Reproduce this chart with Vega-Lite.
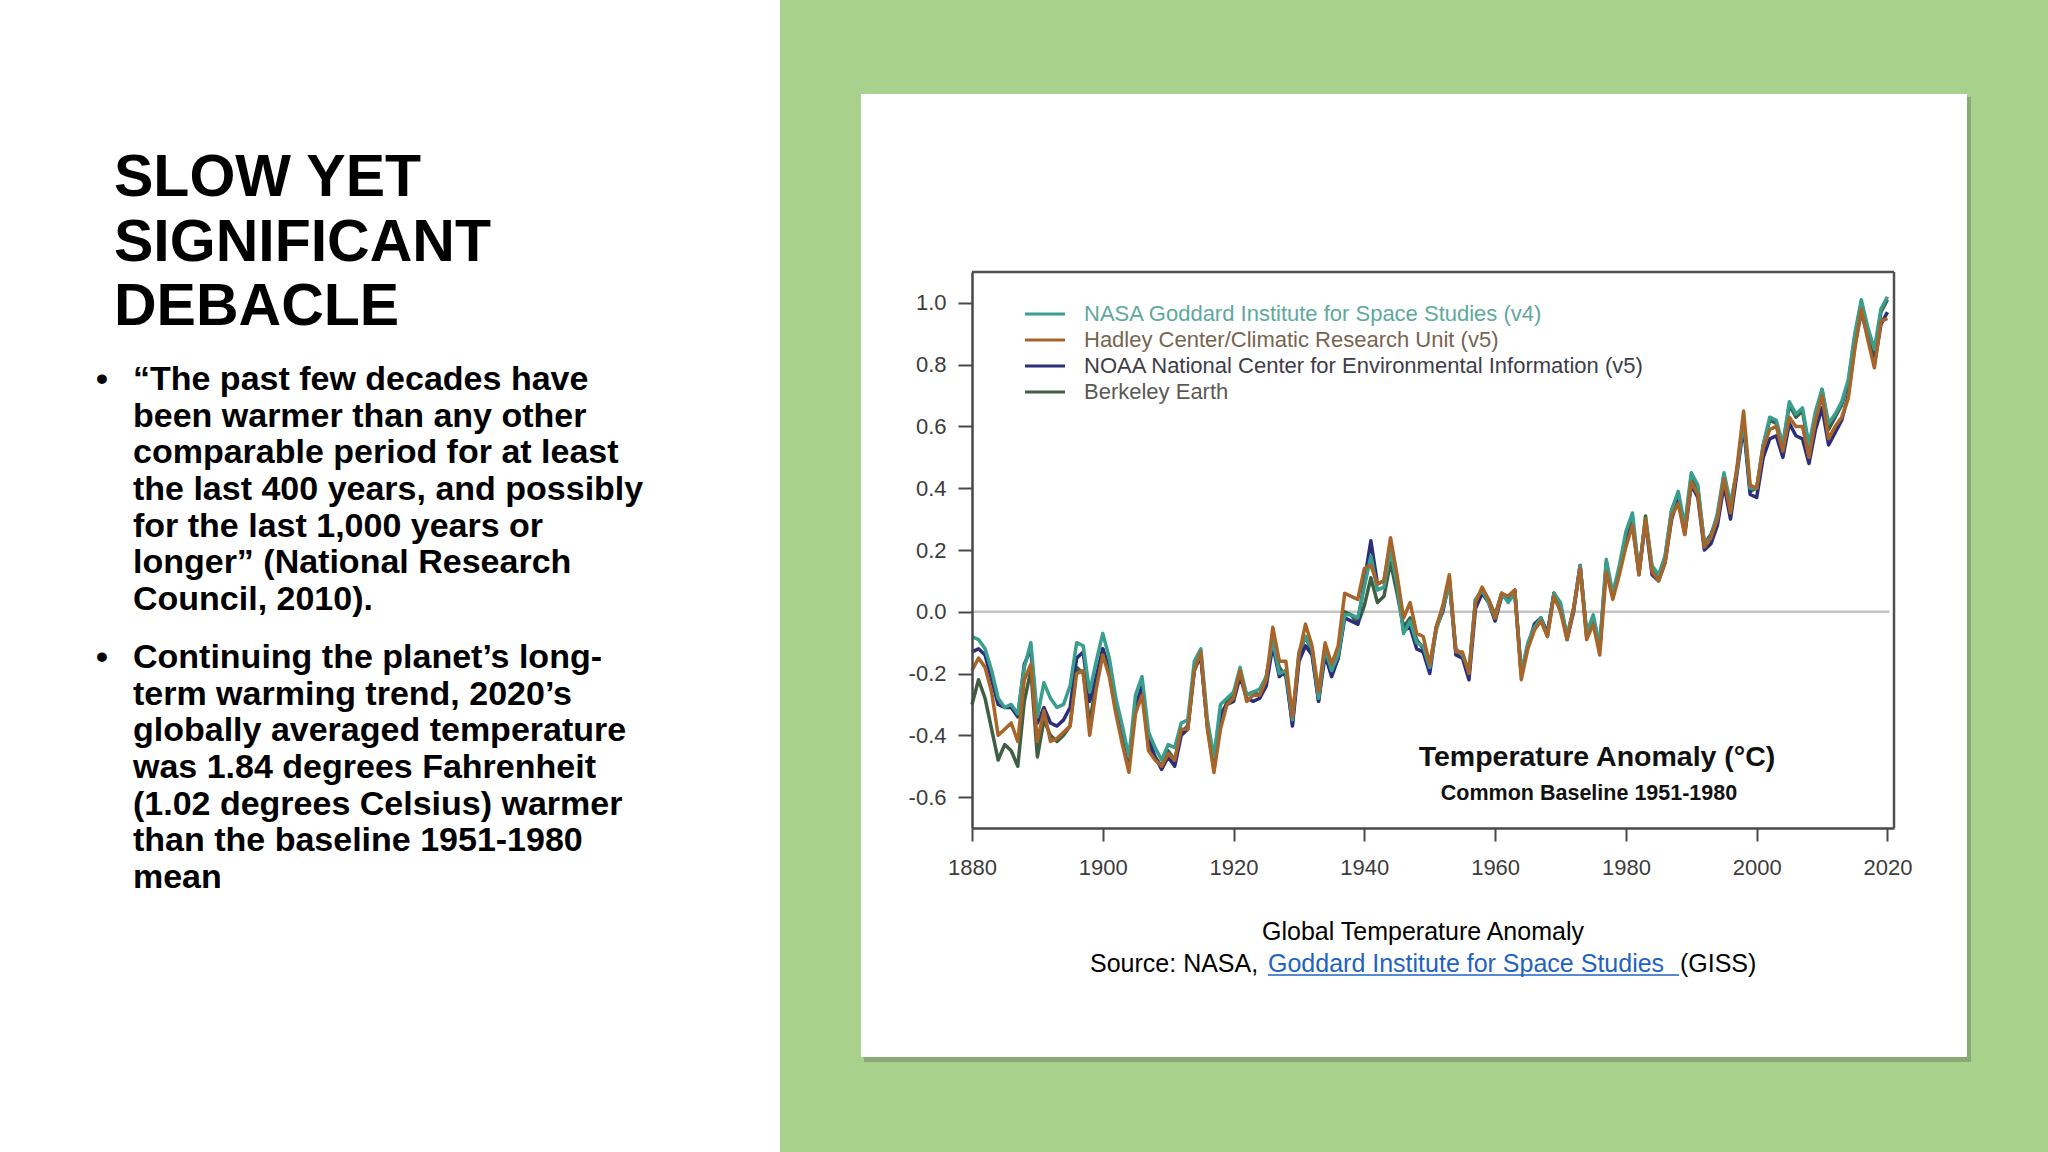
{
  "$schema": "https://vega.github.io/schema/vega-lite/v6.json",
  "width": 922,
  "height": 556,
  "autosize": {"type": "none"},
  "padding": {"left": 972, "top": 272, "right": 154, "bottom": 324},
  "background": "white",
  "config": {
    "font": "Liberation Sans",
    "view": {"stroke": "#505050", "strokeWidth": 2.5}
  },
  "layer": [
    {
      "data": {"values": [{}]},
      "mark": {"type": "rect", "color": "#A9D18E"},
      "encoding": {"x": {"datum": 1850.64}, "x2": {"datum": 2100}, "y": {"datum": -2.5}, "y2": {"datum": 2.5}}
    },
    {
      "data": {"values": [{}]},
      "mark": {"type": "rect", "color": "#7f9c6c", "opacity": 0.75},
      "encoding": {"x": {"datum": 1863.48}, "x2": {"datum": 2032.78}, "y": {"datum": -1.4576}, "y2": {"datum": 1.6665}}
    },
    {
      "data": {"values": [{}]},
      "mark": {"type": "rect", "color": "#ffffff"},
      "encoding": {"x": {"datum": 1863.03}, "x2": {"datum": 2032.16}, "y": {"datum": -1.4414}, "y2": {"datum": 1.6763}}
    },
    {
      "data": {"values": [{}]},
      "mark": {"type": "rule", "color": "#505050", "strokeWidth": 2.5},
      "encoding": {"x": {"datum": 1880}, "x2": {"datum": 2021}, "y": {"datum": 1.1}}
    },
    {
      "data": {"values": [{}]},
      "mark": {"type": "rule", "color": "#505050", "strokeWidth": 2.5},
      "encoding": {"x": {"datum": 2021}, "y": {"datum": -0.7}, "y2": {"datum": 1.1}}
    },
    {
      "data": {"values": [{}]},
      "mark": {"type": "rule", "color": "#c4c4c4", "strokeWidth": 2.5},
      "encoding": {"x": {"datum": 1880}, "x2": {"datum": 2020.3}, "y": {"datum": 0}}
    },
    {
      "data": {"values": [
        {"yr":1880,"nasa":-0.08,"hadcrut":-0.19,"noaa":-0.13,"berkeley":-0.30},
        {"yr":1881,"nasa":-0.09,"hadcrut":-0.15,"noaa":-0.12,"berkeley":-0.22},
        {"yr":1882,"nasa":-0.12,"hadcrut":-0.18,"noaa":-0.14,"berkeley":-0.28},
        {"yr":1883,"nasa":-0.19,"hadcrut":-0.26,"noaa":-0.22,"berkeley":-0.38},
        {"yr":1884,"nasa":-0.28,"hadcrut":-0.40,"noaa":-0.30,"berkeley":-0.48},
        {"yr":1885,"nasa":-0.31,"hadcrut":-0.38,"noaa":-0.31,"berkeley":-0.43},
        {"yr":1886,"nasa":-0.30,"hadcrut":-0.36,"noaa":-0.31,"berkeley":-0.45},
        {"yr":1887,"nasa":-0.33,"hadcrut":-0.42,"noaa":-0.34,"berkeley":-0.50},
        {"yr":1888,"nasa":-0.18,"hadcrut":-0.22,"noaa":-0.17,"berkeley":-0.29},
        {"yr":1889,"nasa":-0.10,"hadcrut":-0.17,"noaa":-0.12,"berkeley":-0.19},
        {"yr":1890,"nasa":-0.34,"hadcrut":-0.42,"noaa":-0.36,"berkeley":-0.47},
        {"yr":1891,"nasa":-0.23,"hadcrut":-0.32,"noaa":-0.31,"berkeley":-0.35},
        {"yr":1892,"nasa":-0.28,"hadcrut":-0.42,"noaa":-0.36,"berkeley":-0.40},
        {"yr":1893,"nasa":-0.31,"hadcrut":-0.41,"noaa":-0.37,"berkeley":-0.42},
        {"yr":1894,"nasa":-0.30,"hadcrut":-0.39,"noaa":-0.35,"berkeley":-0.40},
        {"yr":1895,"nasa":-0.24,"hadcrut":-0.37,"noaa":-0.31,"berkeley":-0.37},
        {"yr":1896,"nasa":-0.10,"hadcrut":-0.20,"noaa":-0.15,"berkeley":-0.18},
        {"yr":1897,"nasa":-0.11,"hadcrut":-0.19,"noaa":-0.13,"berkeley":-0.20},
        {"yr":1898,"nasa":-0.26,"hadcrut":-0.40,"noaa":-0.29,"berkeley":-0.36},
        {"yr":1899,"nasa":-0.16,"hadcrut":-0.25,"noaa":-0.21,"berkeley":-0.23},
        {"yr":1900,"nasa":-0.07,"hadcrut":-0.14,"noaa":-0.12,"berkeley":-0.12},
        {"yr":1901,"nasa":-0.15,"hadcrut":-0.21,"noaa":-0.19,"berkeley":-0.19},
        {"yr":1902,"nasa":-0.28,"hadcrut":-0.33,"noaa":-0.30,"berkeley":-0.32},
        {"yr":1903,"nasa":-0.37,"hadcrut":-0.43,"noaa":-0.41,"berkeley":-0.42},
        {"yr":1904,"nasa":-0.47,"hadcrut":-0.52,"noaa":-0.49,"berkeley":-0.50},
        {"yr":1905,"nasa":-0.27,"hadcrut":-0.33,"noaa":-0.31,"berkeley":-0.31},
        {"yr":1906,"nasa":-0.21,"hadcrut":-0.27,"noaa":-0.24,"berkeley":-0.25},
        {"yr":1907,"nasa":-0.39,"hadcrut":-0.45,"noaa":-0.41,"berkeley":-0.44},
        {"yr":1908,"nasa":-0.44,"hadcrut":-0.48,"noaa":-0.47,"berkeley":-0.47},
        {"yr":1909,"nasa":-0.48,"hadcrut":-0.50,"noaa":-0.51,"berkeley":-0.50},
        {"yr":1910,"nasa":-0.43,"hadcrut":-0.46,"noaa":-0.47,"berkeley":-0.45},
        {"yr":1911,"nasa":-0.44,"hadcrut":-0.48,"noaa":-0.50,"berkeley":-0.48},
        {"yr":1912,"nasa":-0.36,"hadcrut":-0.38,"noaa":-0.40,"berkeley":-0.39},
        {"yr":1913,"nasa":-0.35,"hadcrut":-0.38,"noaa":-0.38,"berkeley":-0.37},
        {"yr":1914,"nasa":-0.16,"hadcrut":-0.19,"noaa":-0.19,"berkeley":-0.18},
        {"yr":1915,"nasa":-0.12,"hadcrut":-0.13,"noaa":-0.14,"berkeley":-0.15},
        {"yr":1916,"nasa":-0.35,"hadcrut":-0.38,"noaa":-0.37,"berkeley":-0.37},
        {"yr":1917,"nasa":-0.47,"hadcrut":-0.52,"noaa":-0.50,"berkeley":-0.51},
        {"yr":1918,"nasa":-0.30,"hadcrut":-0.38,"noaa":-0.33,"berkeley":-0.35},
        {"yr":1919,"nasa":-0.28,"hadcrut":-0.30,"noaa":-0.30,"berkeley":-0.29},
        {"yr":1920,"nasa":-0.26,"hadcrut":-0.28,"noaa":-0.29,"berkeley":-0.27},
        {"yr":1921,"nasa":-0.18,"hadcrut":-0.19,"noaa":-0.21,"berkeley":-0.20},
        {"yr":1922,"nasa":-0.27,"hadcrut":-0.29,"noaa":-0.28,"berkeley":-0.27},
        {"yr":1923,"nasa":-0.26,"hadcrut":-0.27,"noaa":-0.29,"berkeley":-0.26},
        {"yr":1924,"nasa":-0.25,"hadcrut":-0.27,"noaa":-0.28,"berkeley":-0.27},
        {"yr":1925,"nasa":-0.21,"hadcrut":-0.22,"noaa":-0.24,"berkeley":-0.21},
        {"yr":1926,"nasa":-0.09,"hadcrut":-0.05,"noaa":-0.11,"berkeley":-0.10},
        {"yr":1927,"nasa":-0.20,"hadcrut":-0.16,"noaa":-0.21,"berkeley":-0.18},
        {"yr":1928,"nasa":-0.19,"hadcrut":-0.16,"noaa":-0.19,"berkeley":-0.21},
        {"yr":1929,"nasa":-0.35,"hadcrut":-0.34,"noaa":-0.37,"berkeley":-0.36},
        {"yr":1930,"nasa":-0.13,"hadcrut":-0.14,"noaa":-0.16,"berkeley":-0.14},
        {"yr":1931,"nasa":-0.08,"hadcrut":-0.04,"noaa":-0.11,"berkeley":-0.08},
        {"yr":1932,"nasa":-0.12,"hadcrut":-0.11,"noaa":-0.14,"berkeley":-0.13},
        {"yr":1933,"nasa":-0.28,"hadcrut":-0.26,"noaa":-0.29,"berkeley":-0.29},
        {"yr":1934,"nasa":-0.12,"hadcrut":-0.10,"noaa":-0.14,"berkeley":-0.12},
        {"yr":1935,"nasa":-0.19,"hadcrut":-0.17,"noaa":-0.21,"berkeley":-0.20},
        {"yr":1936,"nasa":-0.14,"hadcrut":-0.11,"noaa":-0.15,"berkeley":-0.15},
        {"yr":1937,"nasa":-0.01,"hadcrut":0.06,"noaa":-0.02,"berkeley":0.00},
        {"yr":1938,"nasa":-0.01,"hadcrut":0.05,"noaa":-0.03,"berkeley":-0.01},
        {"yr":1939,"nasa":-0.02,"hadcrut":0.04,"noaa":-0.04,"berkeley":-0.04},
        {"yr":1940,"nasa":0.08,"hadcrut":0.14,"noaa":0.10,"berkeley":0.02},
        {"yr":1941,"nasa":0.18,"hadcrut":0.15,"noaa":0.23,"berkeley":0.11},
        {"yr":1942,"nasa":0.07,"hadcrut":0.09,"noaa":0.09,"berkeley":0.03},
        {"yr":1943,"nasa":0.08,"hadcrut":0.10,"noaa":0.10,"berkeley":0.05},
        {"yr":1944,"nasa":0.20,"hadcrut":0.24,"noaa":0.22,"berkeley":0.16},
        {"yr":1945,"nasa":0.09,"hadcrut":0.12,"noaa":0.10,"berkeley":0.06},
        {"yr":1946,"nasa":-0.07,"hadcrut":-0.02,"noaa":-0.06,"berkeley":-0.05},
        {"yr":1947,"nasa":-0.03,"hadcrut":0.03,"noaa":-0.05,"berkeley":-0.02},
        {"yr":1948,"nasa":-0.10,"hadcrut":-0.07,"noaa":-0.12,"berkeley":-0.09},
        {"yr":1949,"nasa":-0.11,"hadcrut":-0.08,"noaa":-0.13,"berkeley":-0.12},
        {"yr":1950,"nasa":-0.18,"hadcrut":-0.17,"noaa":-0.20,"berkeley":-0.18},
        {"yr":1951,"nasa":-0.06,"hadcrut":-0.05,"noaa":-0.05,"berkeley":-0.05},
        {"yr":1952,"nasa":0.01,"hadcrut":0.02,"noaa":0.00,"berkeley":0.01},
        {"yr":1953,"nasa":0.09,"hadcrut":0.12,"noaa":0.10,"berkeley":0.11},
        {"yr":1954,"nasa":-0.12,"hadcrut":-0.13,"noaa":-0.14,"berkeley":-0.13},
        {"yr":1955,"nasa":-0.14,"hadcrut":-0.13,"noaa":-0.15,"berkeley":-0.14},
        {"yr":1956,"nasa":-0.19,"hadcrut":-0.20,"noaa":-0.22,"berkeley":-0.20},
        {"yr":1957,"nasa":0.04,"hadcrut":0.03,"noaa":0.01,"berkeley":0.04},
        {"yr":1958,"nasa":0.07,"hadcrut":0.08,"noaa":0.06,"berkeley":0.06},
        {"yr":1959,"nasa":0.03,"hadcrut":0.04,"noaa":0.03,"berkeley":0.04},
        {"yr":1960,"nasa":-0.02,"hadcrut":-0.02,"noaa":-0.03,"berkeley":-0.01},
        {"yr":1961,"nasa":0.06,"hadcrut":0.06,"noaa":0.05,"berkeley":0.06},
        {"yr":1962,"nasa":0.03,"hadcrut":0.05,"noaa":0.05,"berkeley":0.04},
        {"yr":1963,"nasa":0.06,"hadcrut":0.07,"noaa":0.07,"berkeley":0.07},
        {"yr":1964,"nasa":-0.20,"hadcrut":-0.22,"noaa":-0.20,"berkeley":-0.20},
        {"yr":1965,"nasa":-0.10,"hadcrut":-0.12,"noaa":-0.11,"berkeley":-0.11},
        {"yr":1966,"nasa":-0.05,"hadcrut":-0.06,"noaa":-0.04,"berkeley":-0.05},
        {"yr":1967,"nasa":-0.02,"hadcrut":-0.03,"noaa":-0.02,"berkeley":-0.02},
        {"yr":1968,"nasa":-0.08,"hadcrut":-0.08,"noaa":-0.07,"berkeley":-0.07},
        {"yr":1969,"nasa":0.06,"hadcrut":0.05,"noaa":0.06,"berkeley":0.06},
        {"yr":1970,"nasa":0.03,"hadcrut":0.00,"noaa":0.02,"berkeley":0.02},
        {"yr":1971,"nasa":-0.08,"hadcrut":-0.09,"noaa":-0.09,"berkeley":-0.08},
        {"yr":1972,"nasa":0.01,"hadcrut":0.01,"noaa":0.00,"berkeley":0.01},
        {"yr":1973,"nasa":0.15,"hadcrut":0.14,"noaa":0.15,"berkeley":0.15},
        {"yr":1974,"nasa":-0.07,"hadcrut":-0.09,"noaa":-0.08,"berkeley":-0.07},
        {"yr":1975,"nasa":-0.01,"hadcrut":-0.04,"noaa":-0.03,"berkeley":-0.02},
        {"yr":1976,"nasa":-0.11,"hadcrut":-0.14,"noaa":-0.12,"berkeley":-0.12},
        {"yr":1977,"nasa":0.17,"hadcrut":0.13,"noaa":0.15,"berkeley":0.16},
        {"yr":1978,"nasa":0.06,"hadcrut":0.04,"noaa":0.05,"berkeley":0.05},
        {"yr":1979,"nasa":0.15,"hadcrut":0.12,"noaa":0.13,"berkeley":0.14},
        {"yr":1980,"nasa":0.26,"hadcrut":0.21,"noaa":0.23,"berkeley":0.24},
        {"yr":1981,"nasa":0.32,"hadcrut":0.28,"noaa":0.28,"berkeley":0.30},
        {"yr":1982,"nasa":0.13,"hadcrut":0.12,"noaa":0.13,"berkeley":0.12},
        {"yr":1983,"nasa":0.30,"hadcrut":0.30,"noaa":0.29,"berkeley":0.31},
        {"yr":1984,"nasa":0.15,"hadcrut":0.13,"noaa":0.12,"berkeley":0.14},
        {"yr":1985,"nasa":0.12,"hadcrut":0.10,"noaa":0.10,"berkeley":0.11},
        {"yr":1986,"nasa":0.18,"hadcrut":0.16,"noaa":0.16,"berkeley":0.18},
        {"yr":1987,"nasa":0.33,"hadcrut":0.31,"noaa":0.30,"berkeley":0.33},
        {"yr":1988,"nasa":0.39,"hadcrut":0.35,"noaa":0.37,"berkeley":0.38},
        {"yr":1989,"nasa":0.28,"hadcrut":0.25,"noaa":0.25,"berkeley":0.27},
        {"yr":1990,"nasa":0.45,"hadcrut":0.42,"noaa":0.41,"berkeley":0.44},
        {"yr":1991,"nasa":0.41,"hadcrut":0.38,"noaa":0.37,"berkeley":0.40},
        {"yr":1992,"nasa":0.22,"hadcrut":0.21,"noaa":0.20,"berkeley":0.22},
        {"yr":1993,"nasa":0.24,"hadcrut":0.24,"noaa":0.22,"berkeley":0.25},
        {"yr":1994,"nasa":0.32,"hadcrut":0.30,"noaa":0.28,"berkeley":0.31},
        {"yr":1995,"nasa":0.45,"hadcrut":0.43,"noaa":0.41,"berkeley":0.44},
        {"yr":1996,"nasa":0.35,"hadcrut":0.32,"noaa":0.30,"berkeley":0.34},
        {"yr":1997,"nasa":0.46,"hadcrut":0.47,"noaa":0.45,"berkeley":0.46},
        {"yr":1998,"nasa":0.62,"hadcrut":0.65,"noaa":0.60,"berkeley":0.62},
        {"yr":1999,"nasa":0.40,"hadcrut":0.41,"noaa":0.38,"berkeley":0.39},
        {"yr":2000,"nasa":0.40,"hadcrut":0.40,"noaa":0.37,"berkeley":0.40},
        {"yr":2001,"nasa":0.54,"hadcrut":0.53,"noaa":0.50,"berkeley":0.54},
        {"yr":2002,"nasa":0.63,"hadcrut":0.59,"noaa":0.56,"berkeley":0.62},
        {"yr":2003,"nasa":0.62,"hadcrut":0.60,"noaa":0.57,"berkeley":0.61},
        {"yr":2004,"nasa":0.54,"hadcrut":0.52,"noaa":0.50,"berkeley":0.54},
        {"yr":2005,"nasa":0.68,"hadcrut":0.63,"noaa":0.61,"berkeley":0.67},
        {"yr":2006,"nasa":0.64,"hadcrut":0.60,"noaa":0.57,"berkeley":0.63},
        {"yr":2007,"nasa":0.66,"hadcrut":0.60,"noaa":0.56,"berkeley":0.65},
        {"yr":2008,"nasa":0.54,"hadcrut":0.50,"noaa":0.48,"berkeley":0.53},
        {"yr":2009,"nasa":0.65,"hadcrut":0.62,"noaa":0.59,"berkeley":0.64},
        {"yr":2010,"nasa":0.72,"hadcrut":0.70,"noaa":0.66,"berkeley":0.72},
        {"yr":2011,"nasa":0.61,"hadcrut":0.56,"noaa":0.54,"berkeley":0.59},
        {"yr":2012,"nasa":0.64,"hadcrut":0.60,"noaa":0.58,"berkeley":0.63},
        {"yr":2013,"nasa":0.68,"hadcrut":0.63,"noaa":0.62,"berkeley":0.67},
        {"yr":2014,"nasa":0.75,"hadcrut":0.69,"noaa":0.70,"berkeley":0.74},
        {"yr":2015,"nasa":0.90,"hadcrut":0.85,"noaa":0.86,"berkeley":0.89},
        {"yr":2016,"nasa":1.01,"hadcrut":0.98,"noaa":0.97,"berkeley":1.00},
        {"yr":2017,"nasa":0.92,"hadcrut":0.88,"noaa":0.89,"berkeley":0.91},
        {"yr":2018,"nasa":0.85,"hadcrut":0.79,"noaa":0.80,"berkeley":0.83},
        {"yr":2019,"nasa":0.98,"hadcrut":0.94,"noaa":0.93,"berkeley":0.97},
        {"yr":2020,"nasa":1.02,"hadcrut":0.95,"noaa":0.97,"berkeley":1.01}
      ]},
      "transform": [{"fold": ["berkeley", "noaa", "nasa", "hadcrut"], "as": ["series", "value"]}],
      "mark": {"type": "line", "strokeWidth": 3.5, "strokeJoin": "round"},
      "encoding": {
        "x": {
          "field": "yr", "type": "quantitative",
          "scale": {"domain": [1880, 2021], "nice": false, "zero": false},
          "axis": {"title": null, "values": [1880, 1900, 1920, 1940, 1960, 1980, 2000, 2020], "format": "d", "grid": false, "zindex": 1,
                   "domainColor": "#484848", "domainWidth": 2.5, "tickColor": "#484848", "tickWidth": 2, "tickSize": 13,
                   "labelFont": "Liberation Sans", "labelFontSize": 22, "labelColor": "#3c3c3c", "labelPadding": 16, "labelFlush": false}
        },
        "y": {
          "field": "value", "type": "quantitative",
          "scale": {"domain": [-0.7, 1.1], "nice": false, "zero": false},
          "axis": {"title": null, "values": [-0.6, -0.4, -0.2, 0, 0.2, 0.4, 0.6, 0.8, 1.0], "format": ".1f", "grid": false, "zindex": 1,
                   "labelExpr": "replace(datum.label, '\u2212', '-')",
                   "domainColor": "#484848", "domainWidth": 2.5, "tickColor": "#484848", "tickWidth": 2, "tickSize": 14,
                   "labelFont": "Liberation Sans", "labelFontSize": 22, "labelColor": "#3c3c3c", "labelPadding": 12, "labelFlush": false}
        },
        "color": {
          "field": "series", "type": "nominal",
          "scale": {"domain": ["nasa", "hadcrut", "noaa", "berkeley"], "range": ["#3a9e8f", "#a8652a", "#2b2f7a", "#3f5f45"]},
          "legend": {
            "orient": "none", "legendX": 62, "legendY": 31, "title": null, "padding": 0,
            "labelExpr": "{'nasa': 'NASA Goddard Institute for Space Studies (v4)', 'hadcrut': 'Hadley Center/Climatic Research Unit (v5)', 'noaa': 'NOAA National Center for Environmental Information (v5)', 'berkeley': 'Berkeley Earth'}[datum.value]",
            "labelFont": "Liberation Sans", "labelFontSize": 22, "labelLimit": 1000, "labelOffset": 28,
            "symbolType": "M-4,0H4", "symbolSize": 100, "symbolStrokeWidth": 3, "rowPadding": 4,
            "encode": {
              "labels": {"update": {"fill": {"signal": "datum.value === 'nasa' ? '#5ea99c' : datum.value === 'hadcrut' ? '#76654f' : datum.value === 'noaa' ? '#3d3d48' : '#5a5a55'"}}},
              "symbols": {"update": {"stroke": {"signal": "datum.value === 'nasa' ? '#5a9e92' : datum.value === 'hadcrut' ? '#6e6253' : datum.value === 'noaa' ? '#30303a' : '#55554f'"}}}
            }
          }
        }
      }
    },
    {
      "data": {"values": [{}]},
      "mark": {"type": "text", "text": "Temperature Anomaly (°C)", "font": "Liberation Sans", "fontWeight": "bold", "fontSize": 28.5, "align": "center", "baseline": "alphabetic", "color": "#111111"},
      "encoding": {"x": {"datum": 1975.58}, "y": {"datum": -0.49928}}
    },
    {
      "data": {"values": [{}]},
      "mark": {"type": "text", "text": "Common Baseline 1951-1980", "font": "Liberation Sans", "fontWeight": "bold", "fontSize": 21.5, "align": "center", "baseline": "alphabetic", "color": "#111111"},
      "encoding": {"x": {"datum": 1974.36}, "y": {"datum": -0.60935}}
    },
    {
      "data": {"values": [{}]},
      "mark": {"type": "text", "text": "Global Temperature Anomaly", "font": "Liberation Sans", "fontSize": 25, "align": "center", "baseline": "alphabetic", "color": "#000000"},
      "encoding": {"x": {"datum": 1948.97}, "y": {"datum": -1.06259}}
    },
    {
      "data": {"values": [{}]},
      "mark": {"type": "text", "text": "Source: NASA,", "font": "Liberation Sans", "fontSize": 25, "align": "left", "baseline": "alphabetic", "color": "#000000"},
      "encoding": {"x": {"datum": 1898.05}, "y": {"datum": -1.16618}}
    },
    {
      "data": {"values": [{}]},
      "mark": {"type": "text", "text": "Goddard Institute for Space Studies", "font": "Liberation Sans", "fontSize": 25, "align": "left", "baseline": "alphabetic", "color": "#1f63c0"},
      "encoding": {"x": {"datum": 1925.27}, "y": {"datum": -1.16618}}
    },
    {
      "data": {"values": [{}]},
      "mark": {"type": "rule", "color": "#1f63c0", "strokeWidth": 1.5},
      "encoding": {"x": {"datum": 1925.27}, "x2": {"datum": 1988.12}, "y": {"datum": -1.17589}}
    },
    {
      "data": {"values": [{}]},
      "mark": {"type": "text", "text": "(GISS)", "font": "Liberation Sans", "fontSize": 25, "align": "left", "baseline": "alphabetic", "color": "#000000"},
      "encoding": {"x": {"datum": 1988.27}, "y": {"datum": -1.16618}}
    },
    {
      "data": {"values": [{}]},
      "mark": {"type": "text", "text": ["SLOW YET", "SIGNIFICANT", "DEBACLE"], "font": "Liberation Sans", "fontWeight": "bold", "fontSize": 59, "lineHeight": 64.5, "align": "left", "baseline": "alphabetic", "color": "#000000"},
      "encoding": {"x": {"datum": 1748.79}, "y": {"datum": 1.346}}
    },
    {
      "data": {"values": [{}]},
      "mark": {"type": "text", "text": "•", "font": "Liberation Sans", "fontWeight": "bold", "fontSize": 34, "align": "left", "baseline": "alphabetic", "color": "#000000"},
      "encoding": {"x": {"datum": 1746.03}, "y": {"datum": 0.71799}}
    },
    {
      "data": {"values": [{}]},
      "mark": {"type": "text", "text": "•", "font": "Liberation Sans", "fontWeight": "bold", "fontSize": 34, "align": "left", "baseline": "alphabetic", "color": "#000000"},
      "encoding": {"x": {"datum": 1746.03}, "y": {"datum": -0.18201}}
    },
    {
      "data": {"values": [{}]},
      "mark": {"type": "text", "text": ["“The past few decades have", "been warmer than any other", "comparable period for at least", "the last 400 years, and possibly", "for the last 1,000 years or", "longer” (National Research", "Council, 2010)."], "font": "Liberation Sans", "fontWeight": "bold", "fontSize": 34, "lineHeight": 36.7, "align": "left", "baseline": "alphabetic", "color": "#000000"},
      "encoding": {"x": {"datum": 1751.69}, "y": {"datum": 0.71799}}
    },
    {
      "data": {"values": [{}]},
      "mark": {"type": "text", "text": ["Continuing the planet’s long-", "term warming trend, 2020’s", "globally averaged temperature", "was 1.84 degrees Fahrenheit", "(1.02 degrees Celsius) warmer", "than the baseline 1951-1980", "mean"], "font": "Liberation Sans", "fontWeight": "bold", "fontSize": 34, "lineHeight": 36.7, "align": "left", "baseline": "alphabetic", "color": "#000000"},
      "encoding": {"x": {"datum": 1751.69}, "y": {"datum": -0.18201}}
    }
  ]
}
